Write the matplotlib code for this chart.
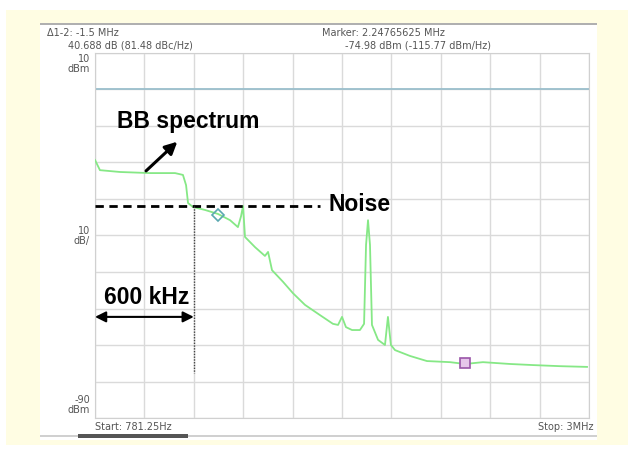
import matplotlib
matplotlib.use('Agg')
import matplotlib.pyplot as plt
from matplotlib.patches import Rectangle
import numpy as np

# spectrum trace (MHz, dBm)
freq_mhz = [0.000, 0.030, 0.152, 0.334, 0.486, 0.534, 0.553, 0.565, 0.595, 0.668,
            0.747, 0.820, 0.868, 0.887, 0.899, 0.911, 0.972, 1.032, 1.051, 1.075,
            1.142, 1.202, 1.275, 1.366, 1.445, 1.476, 1.500, 1.524, 1.561, 1.609,
            1.634, 1.646, 1.658, 1.670, 1.682, 1.719, 1.761, 1.779, 1.797, 1.822,
            1.913, 2.016, 2.156, 2.247, 2.356, 2.520, 2.660, 2.824, 2.988]
level_dbm = [-19.3, -22.1, -22.6, -22.9, -22.9, -23.4, -26.2, -31.1, -32.2, -33.0,
             -34.1, -35.8, -37.7, -34.7, -31.9, -40.4, -43.2, -45.6, -44.5, -49.5,
             -52.7, -55.8, -59.0, -61.8, -64.2, -64.5, -62.3, -65.1, -65.9, -65.9,
             -64.2, -42.6, -35.8, -42.6, -64.5, -68.6, -70.0, -62.3, -70.0, -71.4,
             -73.0, -74.4, -74.7, -75.2, -74.7, -75.2, -75.5, -75.8, -76.0]

marker1 = (0.7477, -34.29)
marker2 = (2.24765625, -74.98)
ref_level = 0
noise_level = -31.9
noise_end = 1.366
bw_edge = 0.6
bw_line_bottom = -77.7
arrow_y = -62.3

W, H = 633, 455
fig = plt.figure(figsize=(W / 100, H / 100), dpi=100)
fig.patch.set_facecolor('white')

def px(x0, y0, x1, y1, **kw):
    # rectangle given in image pixels (top-left origin)
    return Rectangle((x0 / W, 1 - y1 / H), (x1 - x0) / W, (y1 - y0) / H,
                     transform=fig.transFigure, **kw)

fig.patches.append(px(6, 10, 628, 445, facecolor='#fffde3', edgecolor='none', zorder=-3))
fig.patches.append(px(40, 24, 597, 440, facecolor='white', edgecolor='none', zorder=-2))
fig.patches.append(px(40, 23, 597, 25, facecolor='#b0b0b0', edgecolor='none', zorder=-1))
fig.patches.append(px(40, 435, 597, 437, facecolor='#d0d0d0', edgecolor='none', zorder=-1))
fig.patches.append(px(78, 434, 188, 437.5, facecolor='#555555', edgecolor='none', zorder=-0.5))

ax = fig.add_axes([95 / W, 1 - 418 / H, 494 / W, 365 / H])
ax.set_zorder(5)
ax.set_facecolor('white')
ax.set_xlim(0, 3)
ax.set_ylim(-90, 10)
ax.set_xticks(np.linspace(0, 3, 11))
ax.set_yticks(np.linspace(-90, 10, 11))
ax.tick_params(length=0, labelbottom=False, labelleft=False)
ax.grid(True, color='#dadada', linewidth=1.0)
for s in ax.spines.values():
    s.set_color('#d0d0d0')

ax.axhline(ref_level, color='#9bbfcc', linewidth=1.3, zorder=2)
ax.plot(freq_mhz, level_dbm, color='#86e886', linewidth=1.3, zorder=3)

ax.plot(*marker1, marker='D', markersize=6, markerfacecolor='none',
        markeredgecolor='#5aa8b0', markeredgewidth=1.2, zorder=5)
ax.plot(*marker2, marker='s', markersize=7, markerfacecolor='#e6c6ea',
        markeredgecolor='#9a55a8', markeredgewidth=1.2, zorder=5)

# annotations
bold = dict(fontsize=16.5, fontweight='bold', family='Liberation Sans')
ax.plot([0, noise_end], [noise_level, noise_level], color='black',
        linestyle=(0, (3, 2)), linewidth=2, zorder=6, clip_on=False)
ax.text(noise_end + 0.05, noise_level + 0.3, 'Noise', va='center', ha='left', **bold)
ax.plot([bw_edge, bw_edge], [noise_level, bw_line_bottom], color='#444444',
        linestyle=(0, (1, 1)), linewidth=1.0, zorder=6)
ax.annotate('', xy=(0, arrow_y), xytext=(bw_edge, arrow_y),
            arrowprops=dict(arrowstyle='<|-|>', color='black', lw=1.5,
                            mutation_scale=16, shrinkA=0, shrinkB=0))
ax.text(bw_edge / 2 + 0.016, arrow_y + 2.3, '600 kHz', ha='center', va='bottom', **bold)
ax.annotate('', xy=(0.5, -14.3), xytext=(0.31, -22.3),
            arrowprops=dict(arrowstyle='-|>', color='black', lw=2.2,
                            mutation_scale=18, shrinkA=0, shrinkB=0))
ax.text(0.135, -8.9, 'BB spectrum', ha='left', va='center', **bold)

# instrument labels
grey = '#555555'
small = dict(fontsize=7, color=grey, family='DejaVu Sans')
fig.text(47 / W, 1 - 33 / H, 'Δ1-2: -1.5 MHz', va='center', ha='left', **small)
fig.text(68 / W, 1 - 45 / H, '40.688 dB (81.48 dBc/Hz)', va='center', ha='left', **small)
fig.text(322 / W, 1 - 33 / H, 'Marker: 2.24765625 MHz', va='center', ha='left', **small)
fig.text(345 / W, 1 - 45 / H, '-74.98 dBm (-115.77 dBm/Hz)', va='center', ha='left', **small)
fig.text(90 / W, 1 - 64 / H, '10\ndBm', va='center', ha='right', linespacing=1.0, **small)
fig.text(90 / W, 1 - 236 / H, '10\ndB/', va='center', ha='right', linespacing=1.0, **small)
fig.text(90 / W, 1 - 405 / H, '-90\ndBm', va='center', ha='right', linespacing=1.0, **small)
fig.text(95 / W, 1 - 427 / H, 'Start: 781.25Hz', va='center', ha='left', **small)
fig.text(593 / W, 1 - 427 / H, 'Stop: 3MHz', va='center', ha='right', **small)

fig.savefig('out.png', dpi=100)
